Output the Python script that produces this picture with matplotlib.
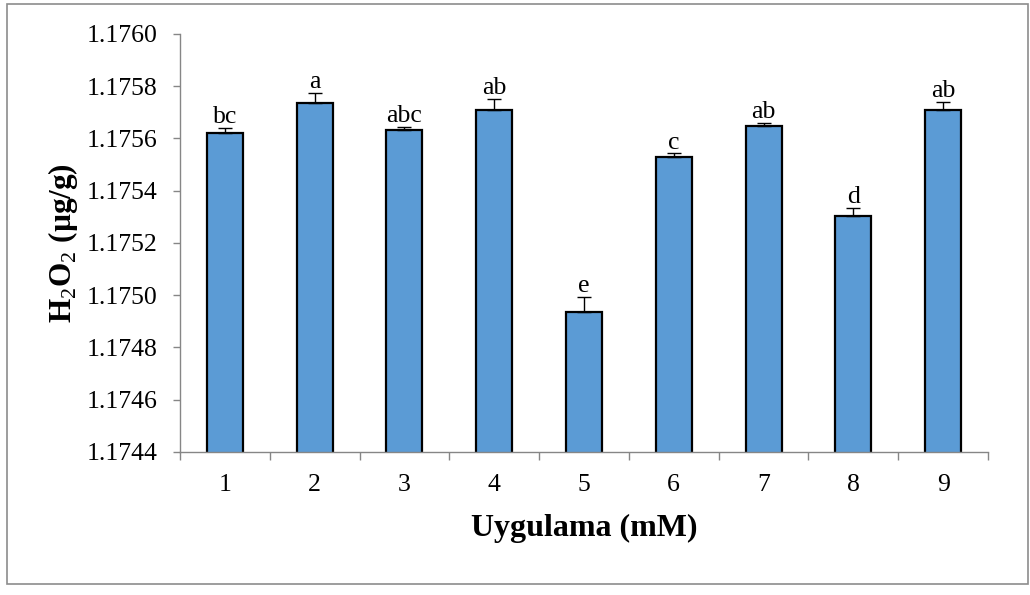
import matplotlib

matplotlib.use("Agg")
import matplotlib.pyplot as plt
from matplotlib.patches import Rectangle
from matplotlib.ticker import FixedLocator, FormatStrFormatter
import numpy as np

plt.rcParams["font.family"] = ["Liberation Serif", "DejaVu Serif"]
plt.rcParams["mathtext.fontset"] = "custom"
plt.rcParams["mathtext.rm"] = "Liberation Serif"
plt.rcParams["mathtext.bf"] = "Liberation Serif:bold"

# data
treatments = ["1", "2", "3", "4", "5", "6", "7", "8", "9"]
h2o2_means = [1.175620, 1.175735, 1.175633, 1.175709, 1.174937,
              1.175530, 1.175647, 1.175303, 1.175709]
h2o2_errors = [0.000022, 0.000038, 0.000010, 0.000043, 0.000057,
               0.000013, 0.000011, 0.000032, 0.000032]
group_letters = ["bc", "a", "abc", "ab", "e", "c", "ab", "d", "ab"]
y_ticks = [1.1744, 1.1746, 1.1748, 1.1750, 1.1752, 1.1754, 1.1756, 1.1758, 1.1760]

AXIS_GRAY = "#868686"
BAR_BLUE = "#5B9BD5"

fig = plt.figure(figsize=(10.30, 5.95), dpi=100)
ax = fig.add_axes([180 / 1030, 1 - 452 / 595, 808 / 1030, 418 / 595])

x = np.arange(len(treatments))
ax.bar(x, h2o2_means, width=0.40, bottom=0, color=BAR_BLUE,
       edgecolor="black", linewidth=1.6, zorder=2)
ax.errorbar(x, h2o2_means, yerr=[np.zeros(len(x)), h2o2_errors], fmt="none",
            ecolor="black", elinewidth=1.0, capsize=5, capthick=1.0, zorder=3)

for xi, mean, err, letter in zip(x, h2o2_means, h2o2_errors, group_letters):
    ax.annotate(letter, (xi, mean + err), xytext=(0, 3.5), textcoords="offset points",
                ha="center", va="baseline", fontsize=18.5)

ax.set_xlim(-0.5, len(treatments) - 0.5)
ax.set_ylim(y_ticks[0], y_ticks[-1])

ax.yaxis.set_major_locator(FixedLocator(y_ticks))
ax.yaxis.set_major_formatter(FormatStrFormatter("%.4f"))
ax.tick_params(axis="y", direction="out", length=5, width=1, color=AXIS_GRAY,
               pad=11, labelsize=18.5)

ax.set_xticks(x)
ax.set_xticklabels(treatments)
ax.set_xticks(np.arange(len(treatments) + 1) - 0.5, minor=True)
ax.tick_params(axis="x", which="major", length=0, pad=16, labelsize=18.5)
ax.tick_params(axis="x", which="minor", direction="out", length=5.5, width=1, color=AXIS_GRAY)

for side in ["top", "right"]:
    ax.spines[side].set_visible(False)
for side in ["left", "bottom"]:
    ax.spines[side].set_color(AXIS_GRAY)
    ax.spines[side].set_linewidth(1.0)

ax.set_xlabel("Uygulama (mM)", fontsize=23, fontweight="bold", labelpad=13)
ax.set_ylabel(r"H$_2$O$_2$ (µg/g)", fontsize=22.5, fontweight="bold", labelpad=5)

# outer chart-area border
fig.patches.append(Rectangle((7 / 1030, 1 - 584 / 595), 1021 / 1030, 580 / 595,
                             transform=fig.transFigure, fill=False,
                             edgecolor="#8C8C8C", linewidth=1.2))

fig.savefig("out.png", dpi=100)
